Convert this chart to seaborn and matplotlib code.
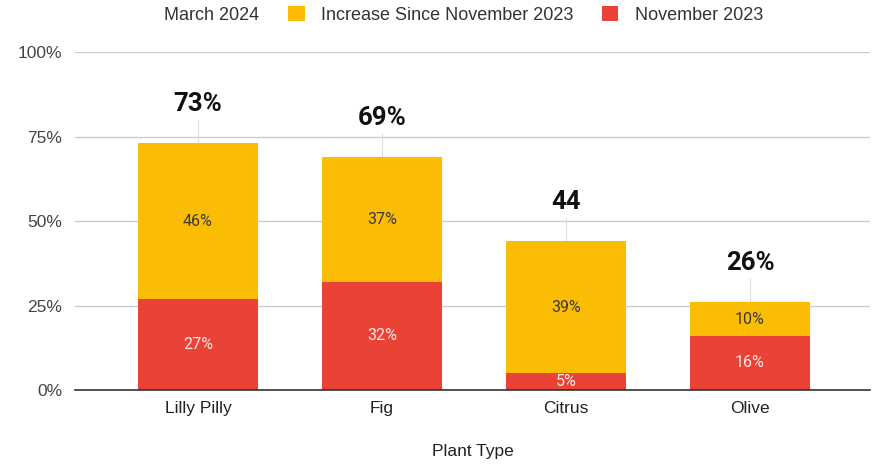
import pandas as pd
import seaborn as sns
import matplotlib.pyplot as plt
from matplotlib.patches import Patch
from matplotlib.lines import Line2D

# Data
plants = ["Lilly Pilly", "Fig", "Citrus", "Olive"]
november_2023 = [27, 32, 5, 16]
increase = [46, 37, 39, 10]
march_2024 = [73, 69, 44, 26]
total_labels = ["73%", "69%", "44", "26%"]

df = pd.DataFrame({
    "Plant": plants,
    "November": november_2023,
    "Increase": increase,
    "March": march_2024,
})

YELLOW = "#FBBC04"
RED = "#EA4335"

sns.set_theme(style="white")
plt.rcParams['font.family'] = ['Liberation Sans', 'DejaVu Sans']

fig = plt.figure(figsize=(8.77, 4.65), dpi=100)
ax = fig.add_axes([0.0855, 0.1613, 0.9065, 0.7267])

# stacked bars: full March height in yellow, November part in red on top
sns.barplot(data=df, x="Plant", y="March", color=YELLOW, width=0.655,
            saturation=1, linewidth=0, ax=ax, zorder=2)
sns.barplot(data=df, x="Plant", y="November", color=RED, width=0.655,
            saturation=1, linewidth=0, ax=ax, zorder=3)

ax.set_ylim(0, 100)
ax.set_xlim(-0.668, 3.652)
ax.set_yticks([0, 25, 50, 75, 100])
ax.set_yticklabels(["0%", "25%", "50%", "75%", "100%"], fontsize=12.5, color="#444444")
ax.tick_params(axis="x", labelsize=12.5, colors="#222222", length=0, pad=8)
ax.tick_params(axis="y", length=0, pad=9)
ax.grid(axis="y", color="#cccccc", linewidth=1, zorder=0)
ax.set_axisbelow(True)
for s in ["top", "right", "left"]:
    ax.spines[s].set_visible(False)
ax.spines["bottom"].set_color("#333333")
ax.spines["bottom"].set_linewidth(1.2)
ax.spines["bottom"].set_zorder(5)
ax.set_ylabel("")
ax.set_xlabel("Plant Type", fontsize=12.5, color="#222222", labelpad=20)

# segment labels
for i in range(len(plants)):
    nov = november_2023[i]
    inc = increase[i]
    ax.text(i, nov / 2, f"{nov}%", ha="center", va="center", fontsize=11.5,
            family="Roboto", color="#fbe9e7", zorder=6)
    ax.text(i, nov + inc / 2, f"{inc}%", ha="center", va="center", fontsize=11.5,
            family="Roboto", color="#3a3a3a", zorder=6)
    # leader line and total label
    ax.plot([i, i], [march_2024[i], march_2024[i] + 7], color="#dddddd",
            linewidth=0.8, zorder=1)
    ax.text(i, march_2024[i] + 11.5, total_labels[i], ha="center", va="center",
            fontsize=18.5, fontweight="bold", family="Roboto", color="#111111",
            zorder=6)

handles = [
    Line2D([], [], linestyle="none"),
    Patch(facecolor=YELLOW, edgecolor="none"),
    Patch(facecolor=RED, edgecolor="none"),
]
fig.legend(handles, ["March 2024", "Increase Since November 2023", "November 2023"],
           loc="center", bbox_to_anchor=(0.51, 0.968), ncol=3, frameon=False,
           fontsize=13, handlelength=0.9, handleheight=0.9, handletextpad=0.9,
           columnspacing=1.6, labelcolor="#333333")

fig.savefig("out.png", dpi=100)
